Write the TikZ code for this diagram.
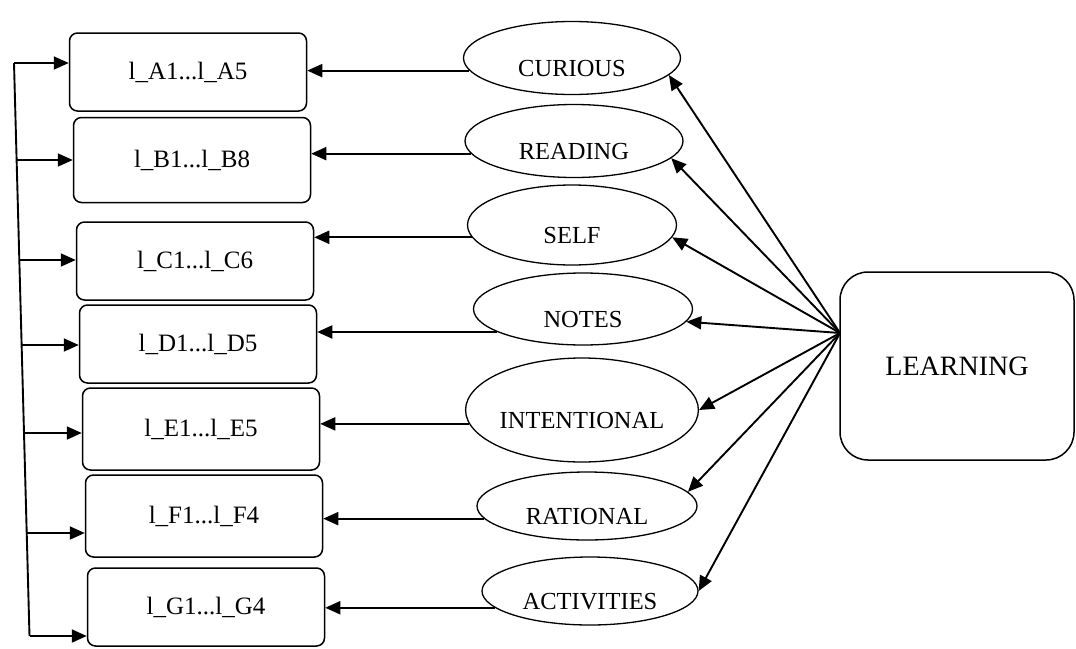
\documentclass[tikz,border=0pt]{standalone}
\usepackage{fontspec}
\setmainfont{Liberation Serif}
\usetikzlibrary{shapes.geometric,arrows.meta}

\begin{document}
\begin{tikzpicture}[x=1pt,y=-1pt,
  item/.style={draw, line width=1.5pt, rounded corners=8pt, minimum width=237pt,
    inner sep=0pt, font=\fontsize{25}{29}\selectfont},
  factor/.style={draw, ellipse, line width=1.3pt, inner sep=0pt,
    text height=36pt, text depth=0pt, font=\fontsize{24.5}{28}\selectfont},
  hubbox/.style={draw, line width=1.5pt, rounded corners=28pt, minimum width=234pt,
    minimum height=188pt, font=\fontsize{28}{32}\selectfont},
  arr/.style={line width=1.9pt, -{Triangle[length=15pt,width=13pt]}},
  link/.style={line width=1.9pt}]

\useasboundingbox (0,0) rectangle (1076,648);

% indicator boxes
\node[item, minimum height=78pt] (bA) at (188,72)  {l\_A1...l\_A5};
\node[item, minimum height=85pt] (bB) at (192,160) {l\_B1...l\_B8};
\node[item, minimum height=78pt] (bC) at (195,261) {l\_C1...l\_C6};
\node[item, minimum height=78pt] (bD) at (198,344) {l\_D1...l\_D5};
\node[item, minimum height=82pt] (bE) at (201,429) {l\_E1...l\_E5};
\node[item, minimum height=82pt] (bF) at (204,516) {l\_F1...l\_F4};
\node[item, minimum height=78pt] (bG) at (206,607) {l\_G1...l\_G4};

% factors
\node[factor, minimum width=217pt, minimum height=73pt]  (cur) at (572,58)  {CURIOUS};
\node[factor, minimum width=218pt, minimum height=73pt]  (rea) at (574,141) {READING};
\node[factor, minimum width=209pt, minimum height=80pt]  (sel) at (572,225) {SELF};
\node[factor, minimum width=219pt, minimum height=72pt]  (nts) at (583,309) {NOTES};
\node[factor, minimum width=219pt, minimum height=104pt] (int) at (582,410) {INTENTIONAL};
\node[factor, minimum width=220pt, minimum height=68pt]  (rat) at (587,506) {RATIONAL};
\node[factor, minimum width=216pt, minimum height=68pt]  (act) at (590,591) {ACTIVITIES};

% construct
\node[hubbox] (L) at (957,366) {LEARNING};
\coordinate (hub) at (840,333);

% construct to factors
\draw[arr] (hub) -- (cur.-10);
\draw[arr] (hub) -- (rea.-10);
\draw[arr] (hub) -- (sel.-7);
\draw[arr] (hub) -- (nts.-7);
\draw[arr] (hub) -- (int.east);
\draw[arr] (hub) -- (rat.8);
\draw[arr] (hub) -- (act.east);

% factors to indicators
\draw[arr] (cur.187) -- (cur.187 -| bA.east);
\draw[arr] (rea.187) -- (rea.187 -| bB.east);
\draw[arr] (sel.187) -- (sel.187 -| bC.east);
\draw[arr] (nts.195) -- (nts.195 -| bD.east);
\draw[arr] (int.187) -- (int.187 -| bE.east);
\draw[arr] (rat.187) -- (rat.187 -| bF.east);
\draw[arr] (act.190) -- (act.190 -| bG.east);

% feedback bus on the left
\coordinate (busA) at (14,63);
\coordinate (busB) at (16.7,160);
\coordinate (busC) at (19.5,260);
\coordinate (busD) at (21.8,345);
\coordinate (busE) at (24.3,433);
\coordinate (busF) at (27,533);
\coordinate (busG) at (29.5,636);
\draw[link] (busA) -- (busG);
\draw[arr] (busA) -- (busA -| bA.west);
\draw[arr] (busB) -- (busB -| bB.west);
\draw[arr] (busC) -- (busC -| bC.west);
\draw[arr] (busD) -- (busD -| bD.west);
\draw[arr] (busE) -- (busE -| bE.west);
\draw[arr] (busF) -- (busF -| bF.west);
\draw[arr] (busG) -- (busG -| bG.west);
\end{tikzpicture}
\end{document}
